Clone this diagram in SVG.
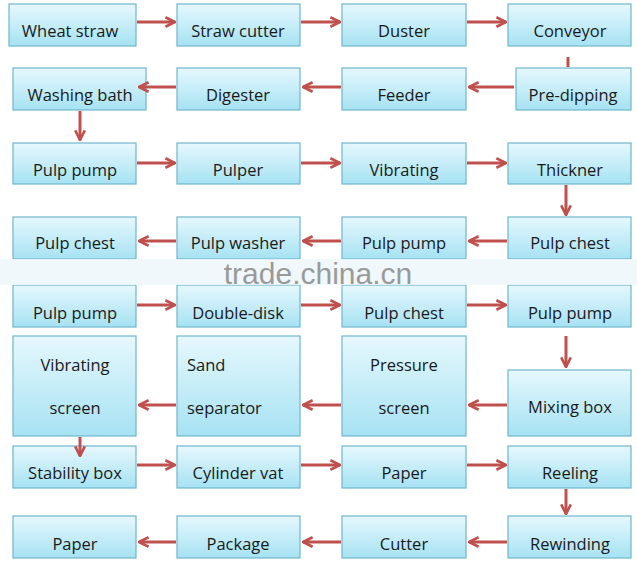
<svg xmlns="http://www.w3.org/2000/svg" width="637" height="562" viewBox="0 0 637 562">
<defs>
<linearGradient id="g" x1="0" y1="0" x2="0" y2="1"><stop offset="0" stop-color="#e6f8fd"/><stop offset="1" stop-color="#a6e2f3"/></linearGradient>
<marker id="a" viewBox="0 0 10 10" refX="9" refY="5" markerWidth="4" markerHeight="4" orient="auto"><path d="M1,1 L9,5 L1,9" fill="none" stroke="#c0504d" stroke-width="2.2"/></marker>
<style>
rect.n{fill:url(#g);stroke:#6fb6cc;stroke-width:1.2}
text{font-family:"Open Sans","Liberation Sans",sans-serif;font-size:16.5px;fill:#1a1a1a;text-anchor:middle}
.c line{stroke:#c0504d;stroke-width:3;marker-end:url(#a)}
</style>
</defs>
<rect width="637" height="562" fill="#fff"/>
<g id="n1"><rect class="n" x="9" y="4" width="127" height="42"/><text x="70" y="37">Wheat straw</text></g>
<g id="n2"><rect class="n" x="177" y="4" width="123" height="42"/><text x="238" y="37">Straw cutter</text></g>
<g id="n3"><rect class="n" x="342" y="4" width="124" height="42"/><text x="404" y="37">Duster</text></g>
<g id="n4"><rect class="n" x="508" y="4" width="123" height="42"/><text x="570" y="37">Conveyor</text></g>
<g id="n5"><rect class="n" x="13" y="68" width="133" height="42"/><text x="80" y="101">Washing bath</text></g>
<g id="n6"><rect class="n" x="177" y="68" width="123" height="42"/><text x="238" y="101">Digester</text></g>
<g id="n7"><rect class="n" x="342" y="68" width="124" height="42"/><text x="404" y="101">Feeder</text></g>
<g id="n8"><rect class="n" x="516" y="68" width="115" height="42"/><text x="573" y="101">Pre-dipping</text></g>
<g id="n9"><rect class="n" x="13" y="143" width="123" height="41"/><text x="75" y="176">Pulp pump</text></g>
<g id="n10"><rect class="n" x="177" y="143" width="123" height="41"/><text x="238" y="176">Pulper</text></g>
<g id="n11"><rect class="n" x="342" y="143" width="124" height="41"/><text x="404" y="176">Vibrating</text></g>
<g id="n12"><rect class="n" x="508" y="143" width="123" height="41"/><text x="570" y="176">Thickner</text></g>
<g id="n13"><rect class="n" x="13" y="217" width="123" height="42"/><text x="75" y="249">Pulp chest</text></g>
<g id="n14"><rect class="n" x="177" y="217" width="123" height="42"/><text x="238" y="249">Pulp washer</text></g>
<g id="n15"><rect class="n" x="342" y="217" width="124" height="42"/><text x="404" y="249">Pulp pump</text></g>
<g id="n16"><rect class="n" x="508" y="217" width="123" height="42"/><text x="570" y="249">Pulp chest</text></g>
<g id="n17"><rect class="n" x="13" y="285" width="123" height="42"/><text x="75" y="319">Pulp pump</text></g>
<g id="n18"><rect class="n" x="177" y="285" width="123" height="42"/><text x="238" y="319">Double-disk</text></g>
<g id="n19"><rect class="n" x="342" y="285" width="124" height="42"/><text x="404" y="319">Pulp chest</text></g>
<g id="n20"><rect class="n" x="508" y="285" width="123" height="42"/><text x="570" y="319">Pulp pump</text></g>
<g id="wm"><rect x="0" y="259" width="637" height="26" fill="#eef7fa" opacity="0.85"/><text x="318" y="284" style="font-family:'Liberation Sans',sans-serif;font-size:30px;fill:#9a9a9a">trade.china.cn</text></g>
<g id="n21"><rect class="n" x="13" y="336" width="123" height="100"/><text x="75" y="371">Vibrating</text><text x="75" y="414">screen</text></g>
<g id="n22"><rect class="n" x="177" y="336" width="123" height="100"/><text x="187" y="371" style="text-anchor:start">Sand</text><text x="187" y="414" style="text-anchor:start">separator</text></g>
<g id="n23"><rect class="n" x="342" y="336" width="124" height="100"/><text x="404" y="371">Pressure</text><text x="404" y="414">screen</text></g>
<g id="n24"><rect class="n" x="508" y="370" width="123" height="66"/><text x="570" y="413">Mixing box</text></g>
<g id="n25"><rect class="n" x="13" y="446" width="123" height="42"/><text x="75" y="479">Stability box</text></g>
<g id="n26"><rect class="n" x="177" y="446" width="123" height="42"/><text x="238" y="479">Cylinder vat</text></g>
<g id="n27"><rect class="n" x="342" y="446" width="124" height="42"/><text x="404" y="479">Paper</text></g>
<g id="n28"><rect class="n" x="508" y="446" width="123" height="42"/><text x="570" y="479">Reeling</text></g>
<g id="n29"><rect class="n" x="13" y="516" width="123" height="42"/><text x="75" y="550">Paper</text></g>
<g id="n30"><rect class="n" x="177" y="516" width="123" height="42"/><text x="238" y="550">Package</text></g>
<g id="n31"><rect class="n" x="342" y="516" width="124" height="42"/><text x="404" y="550">Cutter</text></g>
<g id="n32"><rect class="n" x="508" y="516" width="123" height="42"/><text x="570" y="550">Rewinding</text></g>
<g class="c" id="connectors">
<line x1="137" y1="22" x2="175" y2="22"/><line x1="301" y1="22" x2="340" y2="22"/><line x1="467" y1="22" x2="506" y2="22"/>
<line x1="568" y1="57" x2="568" y2="67" style="marker-end:none"/>
<line x1="514" y1="87" x2="469" y2="87"/><line x1="341" y1="87" x2="303" y2="87"/><line x1="176" y1="87" x2="139" y2="87"/>
<line x1="80" y1="111" x2="80" y2="140"/>
<line x1="137" y1="163" x2="175" y2="163"/><line x1="301" y1="163" x2="340" y2="163"/><line x1="467" y1="163" x2="506" y2="163"/>
<line x1="566" y1="185" x2="566" y2="215"/>
<line x1="507" y1="241" x2="469" y2="241"/><line x1="341" y1="241" x2="303" y2="241"/><line x1="176" y1="241" x2="139" y2="241"/>
<line x1="137" y1="305" x2="175" y2="305"/><line x1="301" y1="305" x2="340" y2="305"/><line x1="467" y1="305" x2="506" y2="305"/>
<line x1="566" y1="336" x2="566" y2="367"/>
<line x1="507" y1="405" x2="469" y2="405"/><line x1="341" y1="405" x2="303" y2="405"/><line x1="176" y1="405" x2="139" y2="405"/>
<line x1="80" y1="437" x2="80" y2="456"/>
<line x1="137" y1="465" x2="175" y2="465"/><line x1="301" y1="465" x2="340" y2="465"/><line x1="467" y1="465" x2="506" y2="465"/>
<line x1="566" y1="489" x2="566" y2="514"/>
<line x1="507" y1="542" x2="469" y2="542"/><line x1="341" y1="542" x2="303" y2="542"/><line x1="176" y1="542" x2="139" y2="542"/>
</g>
</svg>
